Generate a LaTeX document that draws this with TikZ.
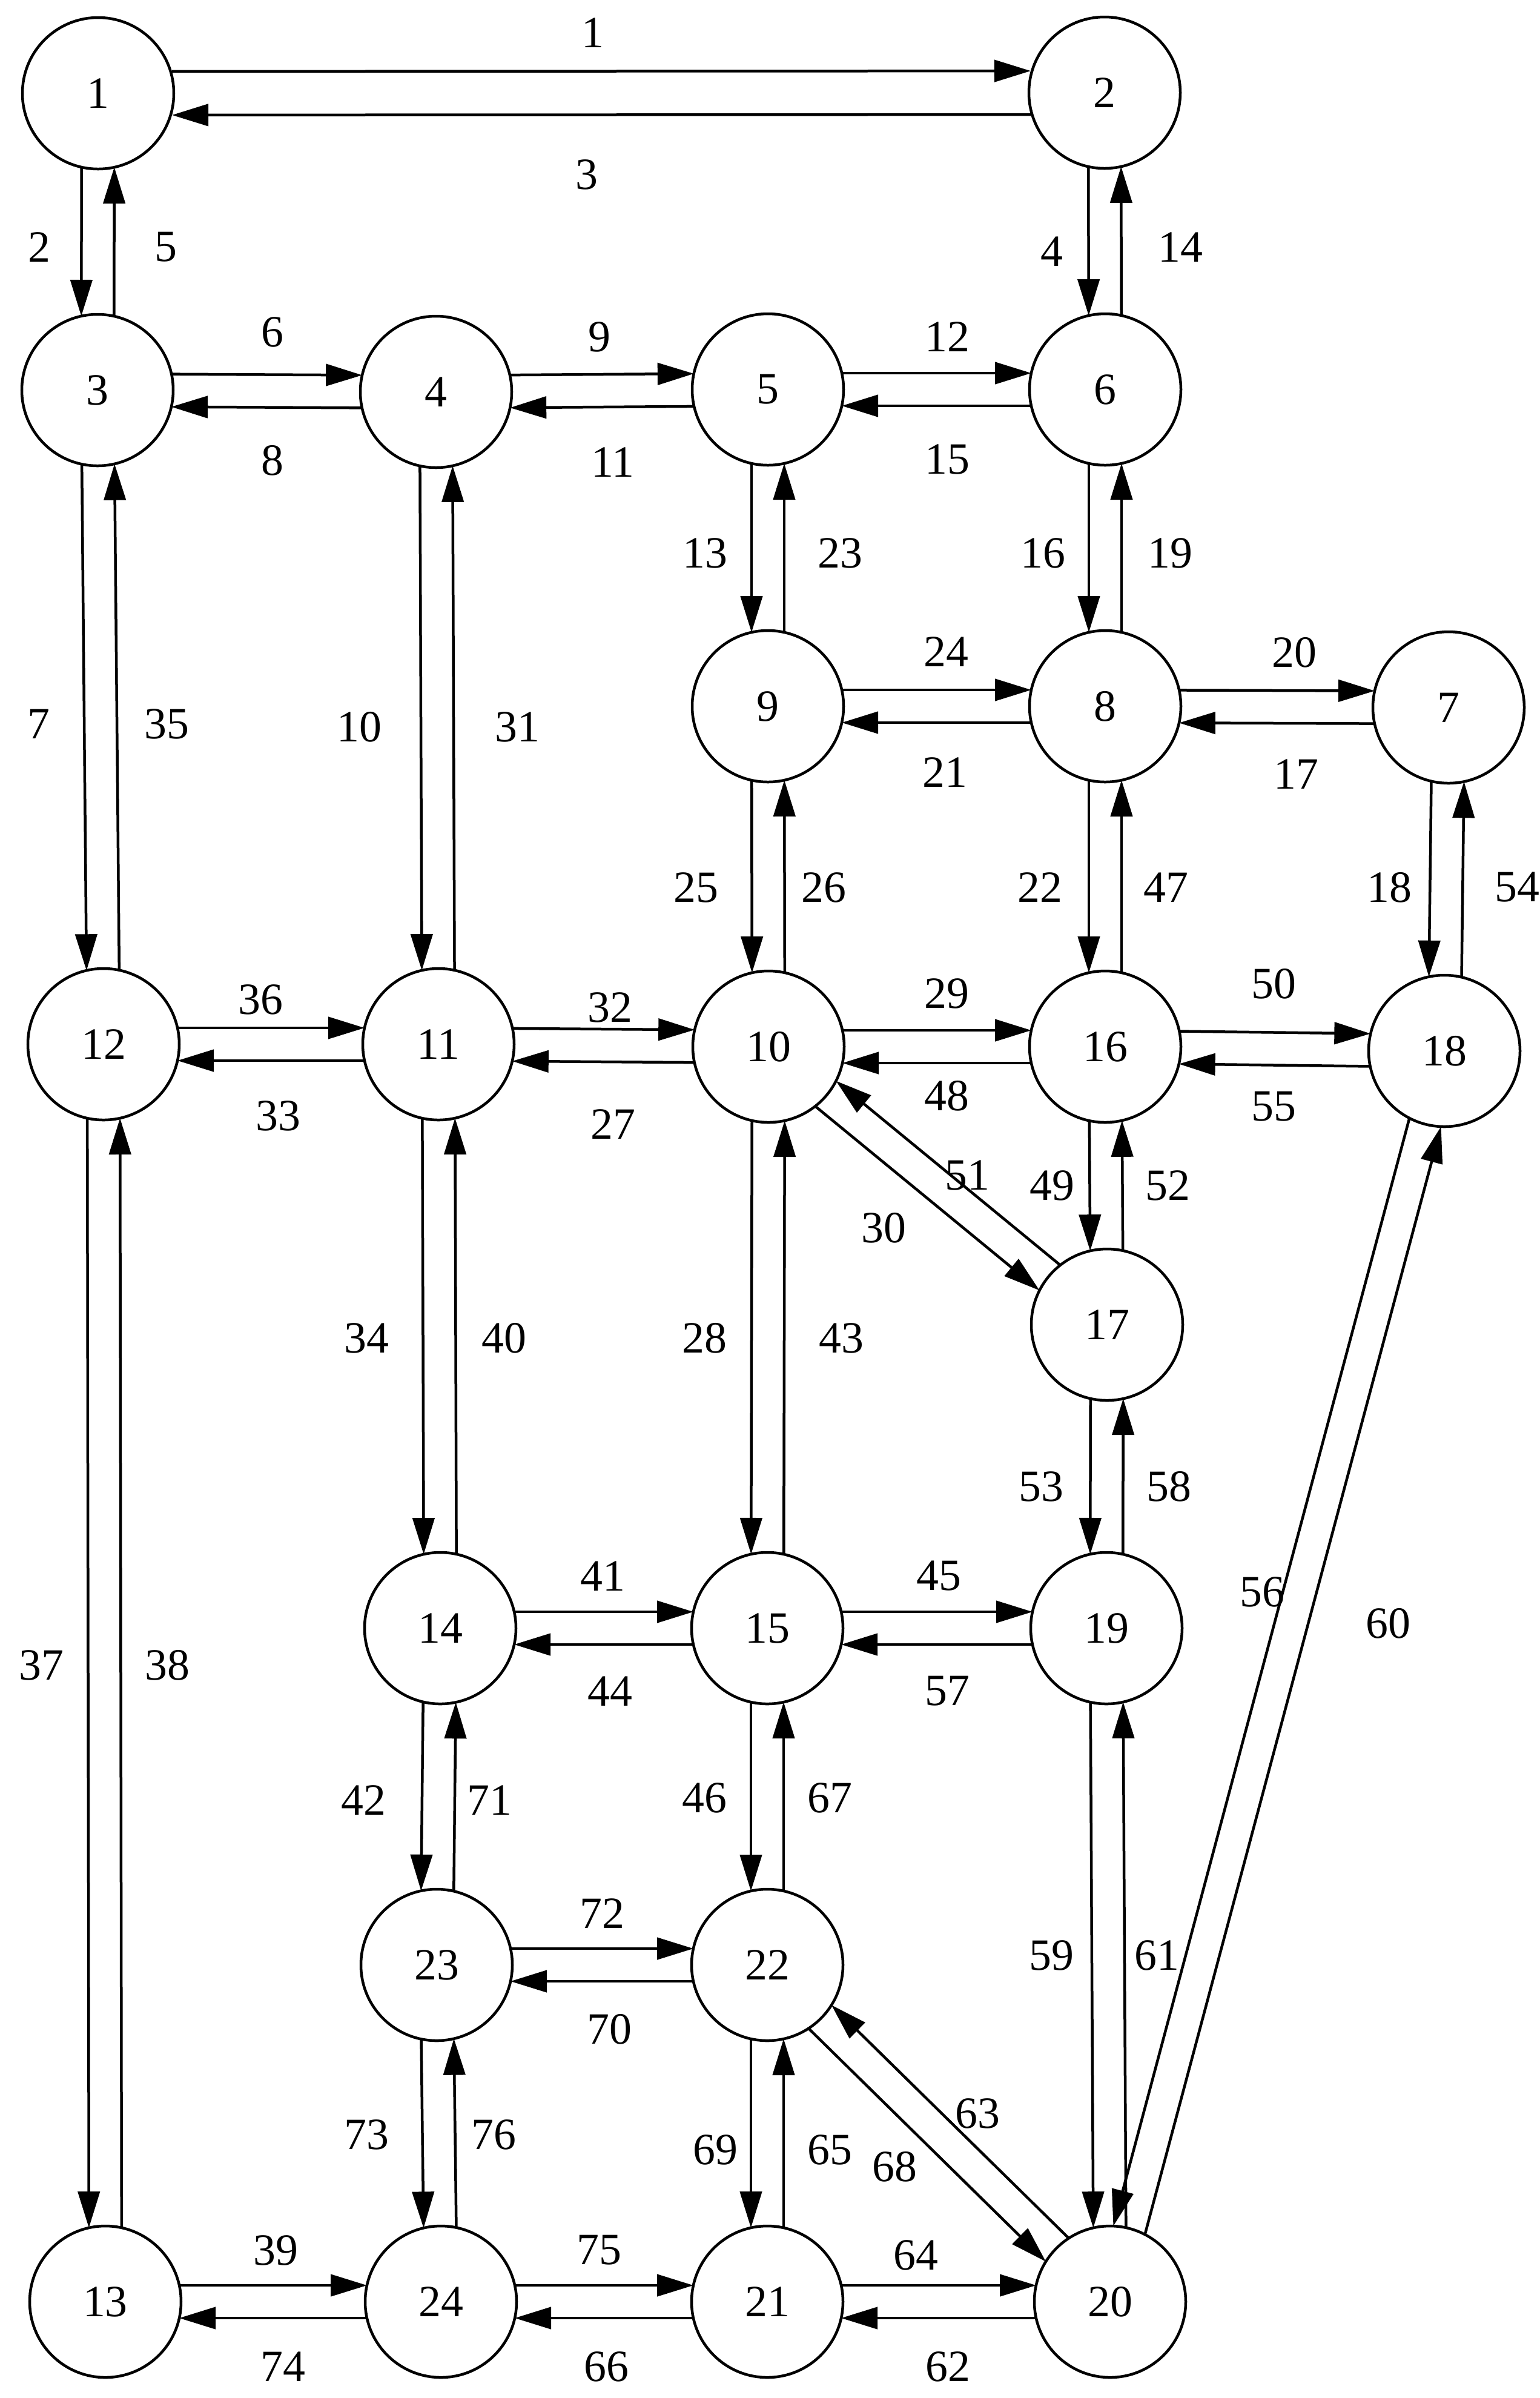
\documentclass[tikz,border=0pt]{standalone}
\usepackage{fontspec}
\setmainfont{Liberation Serif}
\usetikzlibrary{arrows.meta,calc}
\newcommand\hedge[3][0.27cm]{\draw[arr] ($(#2)!#1!90:(#3)$) -- ($(#3)!#1!-90:(#2)$);}
\newcommand\vedge[3][0.27cm]{\draw[arr] ($(#2)!#1!-90:(#3)$) -- ($(#3)!#1!90:(#2)$);}
\newcommand\lab[3]{\node[lbl] (l#1) at ({#2/100},{-#3/100}) {#1};}
\newcommand\vtx[3]{\node[vertex] (n#1) at ({#2/100},{-#3/100}) {#1};}
\begin{document}
\begin{tikzpicture}[
 vertex/.style={circle,draw,line width=0.045cm,minimum size=2.5cm,inner sep=0pt,font=\fontsize{21}{25}\selectfont},
 lbl/.style={inner sep=0pt,font=\fontsize{21}{25}\selectfont},
 arr/.style={draw,line width=0.045cm,-{Triangle[length=0.6cm,width=0.36cm]},shorten <=1.22cm,shorten >=1.22cm}]
\useasboundingbox (0,0) rectangle (25.43,-39.59);
\vtx{1}{162}{154}
\vtx{2}{1824}{153}
\vtx{3}{161}{644}
\vtx{4}{720}{647}
\vtx{5}{1268}{643}
\vtx{6}{1825}{643}
\vtx{9}{1268}{1166}
\vtx{8}{1825}{1166}
\vtx{7}{2392}{1168}
\vtx{12}{171}{1724}
\vtx{11}{724}{1724}
\vtx{10}{1269}{1728}
\vtx{16}{1825}{1728}
\vtx{18}{2385}{1735}
\vtx{17}{1828}{2187}
\vtx{14}{727}{2688}
\vtx{15}{1267}{2688}
\vtx{19}{1827}{2688}
\vtx{23}{721}{3244}
\vtx{22}{1267}{3244}
\vtx{13}{174}{3800}
\vtx{24}{728}{3800}
\vtx{21}{1267}{3800}
\vtx{20}{1833}{3800}
% horizontal pairs
\hedge[0.36cm]{n1}{n2} \hedge[0.36cm]{n2}{n1}
\hedge{n3}{n4} \hedge{n4}{n3}
\hedge{n4}{n5} \hedge{n5}{n4}
\hedge{n5}{n6} \hedge{n6}{n5}
\hedge{n9}{n8} \hedge{n8}{n9}
\hedge{n8}{n7} \hedge{n7}{n8}
\hedge{n12}{n11} \hedge{n11}{n12}
\hedge{n11}{n10} \hedge{n10}{n11}
\hedge{n10}{n16} \hedge{n16}{n10}
\hedge{n16}{n18} \hedge{n18}{n16}
\hedge{n14}{n15} \hedge{n15}{n14}
\hedge{n15}{n19} \hedge{n19}{n15}
\hedge{n23}{n22} \hedge{n22}{n23}
\hedge{n13}{n24} \hedge{n24}{n13}
\hedge{n24}{n21} \hedge{n21}{n24}
\hedge{n21}{n20} \hedge{n20}{n21}
% vertical and diagonal pairs
\vedge{n1}{n3} \vedge{n3}{n1}
\vedge{n2}{n6} \vedge{n6}{n2}
\vedge{n3}{n12} \vedge{n12}{n3}
\vedge{n4}{n11} \vedge{n11}{n4}
\vedge{n5}{n9} \vedge{n9}{n5}
\vedge{n6}{n8} \vedge{n8}{n6}
\vedge{n7}{n18} \vedge{n18}{n7}
\vedge{n9}{n10} \vedge{n10}{n9}
\vedge{n8}{n16} \vedge{n16}{n8}
\vedge{n12}{n13} \vedge{n13}{n12}
\vedge{n11}{n14} \vedge{n14}{n11}
\vedge{n10}{n15} \vedge{n15}{n10}
\vedge{n16}{n17} \vedge{n17}{n16}
\vedge{n17}{n19} \vedge{n19}{n17}
\vedge{n14}{n23} \vedge{n23}{n14}
\vedge{n15}{n22} \vedge{n22}{n15}
\vedge{n19}{n20} \vedge{n20}{n19}
\vedge{n23}{n24} \vedge{n24}{n23}
\vedge{n22}{n21} \vedge{n21}{n22}
\vedge{n10}{n17} \vedge{n17}{n10}
\vedge{n18}{n20} \vedge{n20}{n18}
\vedge{n22}{n20} \vedge{n20}{n22}
% edge labels
\lab{1}{979}{54}
\lab{3}{969}{288}
\lab{2}{65}{408}
\lab{5}{274}{408}
\lab{4}{1737}{415}
\lab{14}{1949}{408}
\lab{6}{450}{548}
\lab{8}{450}{760}
\lab{9}{990}{556}
\lab{11}{1012}{763}
\lab{12}{1564}{556}
\lab{15}{1564}{758}
\lab{13}{1164}{913}
\lab{23}{1387}{913}
\lab{16}{1722}{913}
\lab{19}{1932}{913}
\lab{24}{1562}{1076}
\lab{21}{1560}{1275}
\lab{20}{2137}{1077}
\lab{17}{2140}{1278}
\lab{7}{64}{1195}
\lab{35}{275}{1195}
\lab{10}{593}{1200}
\lab{31}{854}{1200}
\lab{25}{1149}{1465}
\lab{26}{1360}{1465}
\lab{22}{1717}{1465}
\lab{47}{1925}{1465}
\lab{18}{2294}{1465}
\lab{54}{2505}{1465}
\lab{36}{430}{1650}
\lab{33}{459}{1842}
\lab{32}{1007}{1663}
\lab{27}{1012}{1856}
\lab{29}{1563}{1640}
\lab{48}{1563}{1809}
\lab{50}{2103}{1624}
\lab{55}{2103}{1827}
\lab{51}{1597}{1940}
\lab{49}{1737}{1957}
\lab{52}{1928}{1957}
\lab{30}{1459}{2027}
\lab{34}{605}{2209}
\lab{40}{832}{2209}
\lab{28}{1163}{2209}
\lab{43}{1389}{2209}
\lab{53}{1719}{2454}
\lab{58}{1930}{2454}
\lab{56}{2084}{2628}
\lab{60}{2292}{2680}
\lab{37}{68}{2749}
\lab{38}{276}{2749}
\lab{41}{995}{2602}
\lab{44}{1007}{2792}
\lab{45}{1550}{2602}
\lab{57}{1564}{2792}
\lab{42}{600}{2972}
\lab{71}{808}{2972}
\lab{46}{1163}{2968}
\lab{67}{1370}{2968}
\lab{72}{994}{3159}
\lab{70}{1006}{3350}
\lab{59}{1736}{3228}
\lab{61}{1910}{3228}
\lab{73}{605}{3524}
\lab{76}{815}{3524}
\lab{69}{1181}{3549}
\lab{65}{1370}{3549}
\lab{68}{1477}{3577}
\lab{63}{1614}{3489}
\lab{39}{455}{3715}
\lab{74}{467}{3907}
\lab{75}{989}{3715}
\lab{66}{1001}{3907}
\lab{64}{1512}{3723}
\lab{62}{1565}{3907}
\end{tikzpicture}
\end{document}
